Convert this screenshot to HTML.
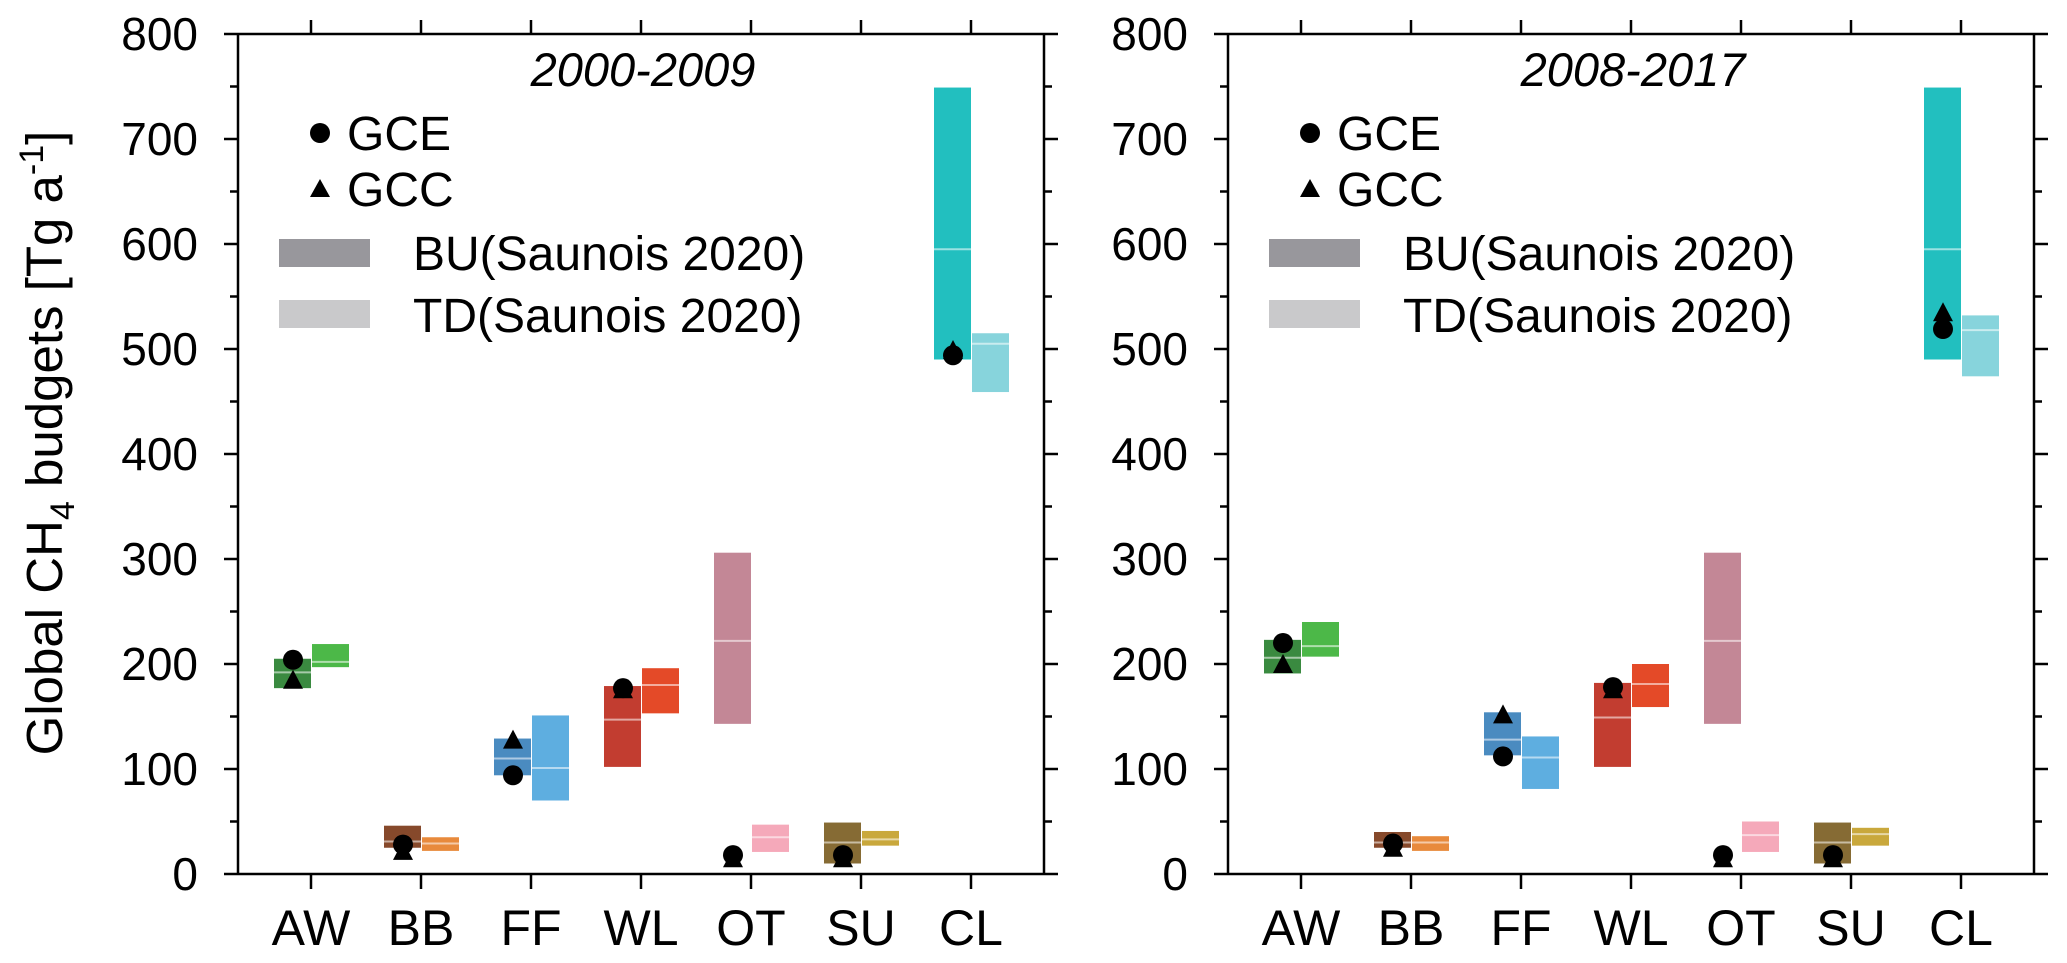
<!DOCTYPE html>
<html><head><meta charset="utf-8"><style>
html,body{margin:0;padding:0;background:#fff;}
svg{display:block;font-family:"Liberation Sans",Arial,sans-serif;}
</style></head><body>
<svg id="chart" width="2067" height="963" viewBox="0 0 2067 963" xmlns="http://www.w3.org/2000/svg">
<text transform="translate(62,443) rotate(-90)" text-anchor="middle" font-size="51">Global CH<tspan font-size="34" dy="12">4</tspan><tspan dy="-12"> budgets [Tg a</tspan><tspan font-size="34" dy="-19">-1</tspan><tspan dy="19">]</tspan></text>
<g id="p0"></g>
<g id="p1"></g>
</svg>
<script>
const categories = ["AW","BB","FF","WL","OT","SU","CL"];
const periods = ["2000-2009","2008-2017"];
// BU (bottom-up) [min, max, mean]
const buMin0 = [177, 25, 94, 102, 143, 10, 490];
const buMax0 = [205, 46, 129, 179, 306, 49, 749];
const buMean0 = [192, 31, 110, 147, 222, 30, 595];
const tdMin0 = [197, 22, 70, 153, 21, 27, 459];
const tdMax0 = [219, 35, 151, 196, 47, 41, 515];
const tdMean0 = [202, 29, 101, 180, 35, 33, 505];
const gce0 = [204, 28, 94, 177, 18, 18, 494];
const gcc0 = [185, 22, 128, 176, 15, 15, 499];
const buMin1 = [191, 25, 113, 102, 143, 10, 490];
const buMax1 = [223, 40, 154, 182, 306, 49, 749];
const buMean1 = [206, 30, 128, 149, 222, 30, 595];
const tdMin1 = [207, 22, 81, 159, 21, 27, 474];
const tdMax1 = [240, 36, 131, 200, 50, 44, 532];
const tdMean1 = [217, 30, 111, 181, 37, 38, 518];
const gce1 = [220, 29, 112, 178, 18, 18, 519];
const gcc1 = [200, 25, 152, 176, 15, 15, 535];
const yTicks = [0,100,200,300,400,500,600,700,800];

const buColors = ["#3a8a40","#86492b","#4a8bc0","#c23d30","#c38796","#866b34","#22bfbf"];
const tdColors = ["#4cb848","#e88a3c","#5eaee0","#e44a28","#f5a9ba","#c9a83c","#87d4dc"];

const NS = "http://www.w3.org/2000/svg";
function mk(parent, tag, attrs, text){
  const e = document.createElementNS(NS, tag);
  for (const k in attrs) e.setAttribute(k, attrs[k]);
  if (text !== undefined) e.textContent = text;
  parent.appendChild(e);
  return e;
}
const Y0 = 874, YTOP = 34;
function yS(v){ return Y0 - (v/800)*(Y0-YTOP); }

const data = [
  {buMin:buMin0,buMax:buMax0,buMean:buMean0,tdMin:tdMin0,tdMax:tdMax0,tdMean:tdMean0,gce:gce0,gcc:gcc0},
  {buMin:buMin1,buMax:buMax1,buMean:buMean1,tdMin:tdMin1,tdMax:tdMax1,tdMean:tdMean1,gce:gce1,gcc:gcc1}
];

for (let p=0;p<2;p++){
  const g = document.getElementById("p"+p);
  const off = p*990;
  const L = 238+off, R = 1044+off;
  function xS(i){ return 311 + off + i*110; }
  const d = data[p];
  for (let i=0;i<categories.length;i++){
    const cx = xS(i);
    const b = mk(g,"rect",{x:cx-37,y:yS(d.buMax[i]),width:37,height:yS(d.buMin[i])-yS(d.buMax[i]),fill:buColors[i]});
    
    
    const bm = mk(g,"line",{x1:cx-37,x2:cx,y1:yS(d.buMean[i]),y2:yS(d.buMean[i]),stroke:"rgba(255,255,255,0.55)","stroke-width":2});
    
    
    const t = mk(g,"rect",{x:cx+1,y:yS(d.tdMax[i]),width:37,height:yS(d.tdMin[i])-yS(d.tdMax[i]),fill:tdColors[i]});
    
    
    const tm = mk(g,"line",{x1:cx+1,x2:cx+38,y1:yS(d.tdMean[i]),y2:yS(d.tdMean[i]),stroke:"rgba(255,255,255,0.55)","stroke-width":2});
    
    
  }
  for (let i=0;i<categories.length;i++){
    const mx = xS(i)-18;
    const ty = yS(d.gcc[i]);
    const tri = mk(g,"polygon",{points:`${mx-10},${ty+9} ${mx+10},${ty+9} ${mx},${ty-10}`,fill:"#000"});
    
    
    const c = mk(g,"circle",{cx:mx,cy:yS(d.gce[i]),r:10,fill:"#000"});
    
    
  }
  const ax = mk(g,"g",{stroke:"#000","stroke-width":2.5,fill:"none"});
  
  
  mk(ax,"line",{x1:L,x2:L,y1:YTOP,y2:Y0});
  mk(ax,"line",{x1:R,x2:R,y1:YTOP,y2:Y0});
  mk(ax,"line",{x1:L-14,x2:R+14,y1:YTOP,y2:YTOP});
  mk(ax,"line",{x1:L-14,x2:R+14,y1:Y0,y2:Y0});
  for (let v=50; v<800; v+=50){
    const major = v%100===0;
    const len = major?14:8;
    mk(ax,"line",{x1:L-len,x2:L,y1:yS(v),y2:yS(v)});
    mk(ax,"line",{x1:R,x2:R+len,y1:yS(v),y2:yS(v)});
  }
  for (let i=0;i<categories.length;i++){
    mk(ax,"line",{x1:xS(i),x2:xS(i),y1:Y0,y2:Y0+15});
    mk(ax,"line",{x1:xS(i),x2:xS(i),y1:YTOP,y2:YTOP-14});
  }
  for (const v of yTicks){
    const t = mk(g,"text",{x:L-40,y:yS(v)+16,"text-anchor":"end","font-size":46},String(v));
    
    
  }
  for (let i=0;i<categories.length;i++){
    const t = mk(g,"text",{x:xS(i),y:945,"text-anchor":"middle","font-size":50},categories[i]);
    
    
  }
  const ti = mk(g,"text",{x:643+off,y:86,"text-anchor":"middle","font-size":47,"font-style":"italic"},periods[p]);
  
  
  const lg = mk(g,"g",{});
  
  
  const lx = 320+off;
  mk(lg,"circle",{cx:lx,cy:133,r:10,fill:"#000"});
  mk(lg,"text",{x:lx+27,y:150,"font-size":48},"GCE");
  mk(lg,"polygon",{points:`${lx-10},${197} ${lx+10},${197} ${lx},${179}`,fill:"#000"});
  mk(lg,"text",{x:lx+27,y:206,"font-size":48},"GCC");
  mk(lg,"rect",{x:279+off,y:239,width:91,height:28,fill:"#98979c"});
  mk(lg,"text",{x:413+off,y:270,"font-size":48},"BU(Saunois 2020)");
  mk(lg,"rect",{x:279+off,y:300,width:91,height:28,fill:"#c9c9cb"});
  mk(lg,"text",{x:413+off,y:332,"font-size":48},"TD(Saunois 2020)");
}
</script>
</body></html>
